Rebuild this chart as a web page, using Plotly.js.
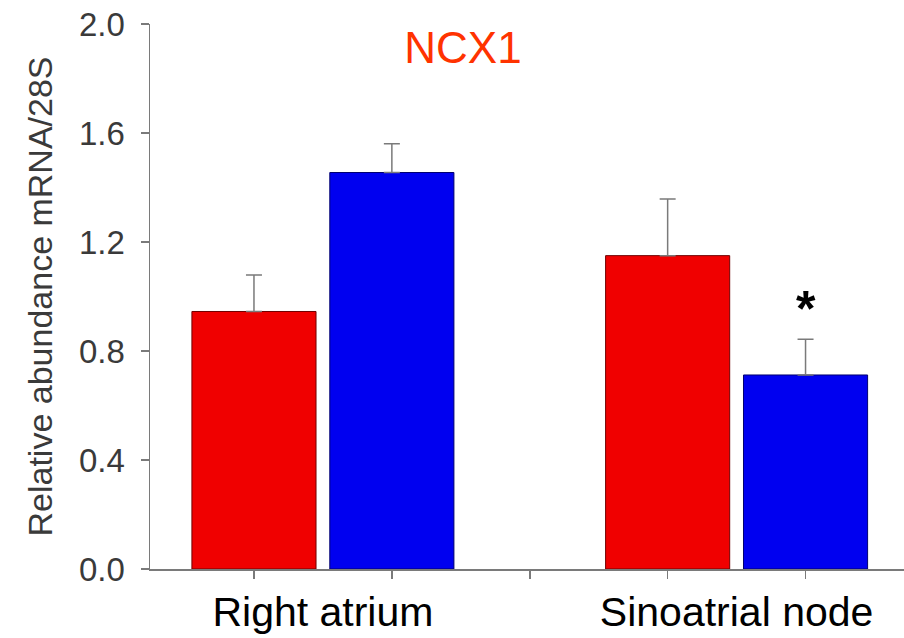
<!DOCTYPE html>
<html>
<head>
<meta charset="utf-8">
<script src="https://cdn.plot.ly/plotly-3.0.1.min.js"></script>
<style>html,body{margin:0;padding:0;background:#fff;}#chart{width:904px;height:638px;}</style>
</head>
<body>
<div id="chart"></div>
<script>
const chartTitle = "NCX1";
const groups = ["Right atrium", "Sinoatrial node"];
const redValues = [0.945, 1.15];
const redErrors = [0.134, 0.208];
const blueValues = [1.455, 0.712];
const blueErrors = [0.106, 0.131];
const yTitle = "Relative abundance mRNA/28S";
const significance = ["", "*"];

const redX = groups.map((g, i) => i * 3 + 1);
const blueX = groups.map((g, i) => i * 3 + 2);
const groupX = groups.map((g, i) => i * 3 + 1.5);
const zeros = groups.map(() => 0);

const errStyle = {type: 'data', symmetric: false, arrayminus: zeros, color: '#7a7a7a', thickness: 1.5, width: 8};

const traces = [
  {type: 'bar', x: redX, y: redValues, width: 0.9,
   marker: {color: '#f00000', line: {color: '#700000', width: 1}},
   error_y: Object.assign({array: redErrors}, errStyle), showlegend: false, hoverinfo: 'y'},
  {type: 'bar', x: blueX, y: blueValues, width: 0.9,
   marker: {color: '#0000f0', line: {color: '#000070', width: 1}},
   error_y: Object.assign({array: blueErrors}, errStyle), showlegend: false, hoverinfo: 'y'}
];

const annotations = [];
significance.forEach((s, i) => {
  if (s) annotations.push({x: blueX[i], y: blueValues[i] + blueErrors[i], yshift: 30, xref: 'x', yref: 'y',
    text: '<b>' + s + '</b>', showarrow: false, font: {family: 'Liberation Sans, Arial', size: 50, color: '#000'}});
});

const layout = {
  width: 904, height: 638,
  margin: {l: 150, r: 0, t: 24, b: 69},
  paper_bgcolor: '#fff', plot_bgcolor: '#fff',
  showlegend: false,
  title: {text: chartTitle, x: 463 / 904, xanchor: 'center', xref: 'container',
          y: 1 - 48 / 638, yanchor: 'middle', yref: 'container',
          font: {family: 'Liberation Sans, Arial', size: 44, color: '#ff3300'}},
  xaxis: {range: [0.246, 5.714], showgrid: false, zeroline: false,
          showline: true, linecolor: '#7a7a7a', linewidth: 1.5,
          tickvals: groupX, ticktext: groups, ticks: '',
          tickfont: {family: 'Liberation Sans, Arial', size: 41, color: '#000'},
          ticklabelstandoff: 6,
          minor: {dtick: 1, tick0: 0, ticks: 'outside', ticklen: 8, tickcolor: '#7a7a7a', tickwidth: 1.5, showgrid: false}},
  yaxis: {range: [0, 2.0], dtick: 0.4, tick0: 0, tickformat: '.1f', showgrid: false, zeroline: false,
          showline: true, linecolor: '#7a7a7a', linewidth: 1.5,
          ticks: 'outside', ticklen: 8, tickcolor: '#7a7a7a', tickwidth: 1.5,
          ticklabelstandoff: 9,
          tickfont: {family: 'Liberation Sans, Arial', size: 33, color: '#3a3a3a'},
          title: {text: yTitle, standoff: 16, font: {family: 'Liberation Sans, Arial', size: 34, color: '#3a3a3a'}}},
  annotations: annotations
};

Plotly.newPlot('chart', traces, layout, {displayModeBar: false, staticPlot: true});
</script>
</body>
</html>
